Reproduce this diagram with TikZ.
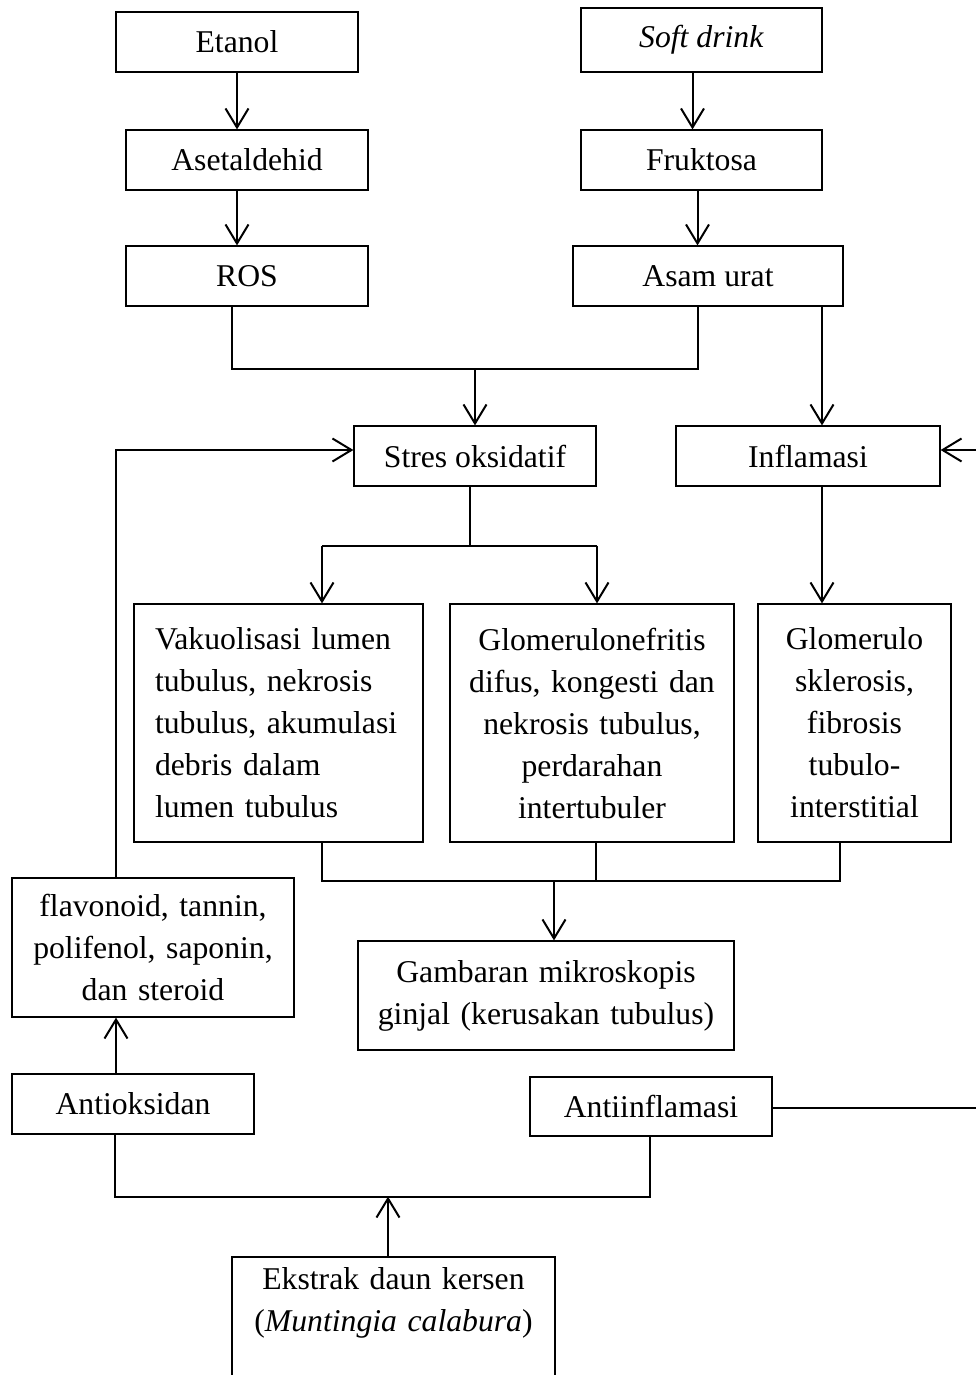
\documentclass[tikz,border=0pt]{standalone}
\usepackage{fontspec}
\setmainfont{Liberation Serif}
\usetikzlibrary{arrows.meta}

\begin{document}
\begin{tikzpicture}[x=1pt,y=-1pt,font=\fontsize{31.7}{42}\selectfont]
	\tikzstyle{box}=[draw,line width=1.2pt,inner sep=0pt,minimum height=60pt,align=center]
	\tikzstyle{bigbox}=[box,minimum height=238pt]
	\tikzstyle{arr}=[line width=2pt,-{Straight Barb[length=19pt,width=23pt]}]
	\tikzstyle{ln}=[line width=2pt]
	\useasboundingbox (0,0) rectangle (976,1375);
	\clip (0,0) rectangle (976,1375);
	\node[box,minimum width=242pt] (etanol) at (237,42) {Etanol};
	\node[box,minimum width=242pt] (asetaldehid) at (247,160) {Asetaldehid};
	\node[box,minimum width=242pt] (ros) at (247,276) {ROS};
	\node[box,minimum width=241pt,minimum height=64pt] (softdrink) at (701.5,40) {\textit{Soft drink}};
	\node[box,minimum width=241pt] (fruktosa) at (701.5,160) {Fruktosa};
	\node[box,minimum width=270pt] (asamurat) at (708,276) {Asam urat};
	\node[box,minimum width=242pt] (stres) at (475,456) {Stres oksidatif};
	\node[box,minimum width=264pt] (inflamasi) at (808,456) {Inflamasi};
	\node[bigbox,text width=247pt,inner xsep=21pt,align=left] (vakuolisasi) at (278.5,723)
		{Vakuolisasi lumen\\tubulus, nekrosis\\tubulus, akumulasi\\debris dalam\\lumen tubulus};
	\node[bigbox,text width=250pt,inner xsep=17pt] (glomerulonefritis) at (592,723)
		{Glomerulonefritis\\difus, kongesti dan\\nekrosis tubulus,\\perdarahan\\intertubuler};
	\node[bigbox,text width=170pt,inner xsep=11.5pt] (sklerosis) at (854.5,723)
		{Glomerulo\\sklerosis,\\fibrosis\\tubulo-\\interstitial};
	\node[box,text width=262pt,inner xsep=10pt,minimum height=139pt] (flavonoid) at (153,947.5)
		{flavonoid, tannin,\\polifenol, saponin,\\dan steroid};
	\node[box,text width=356pt,inner xsep=10pt,minimum height=109pt] (gambaran) at (546,995.5)
		{Gambaran mikroskopis\\ginjal (kerusakan tubulus)};
	\node[box,minimum width=242pt] (antioksidan) at (133,1104) {Antioksidan};
	\node[box,minimum width=242pt,minimum height=59pt] (antiinflamasi) at (651,1106.5) {Antiinflamasi};
	\node[box,text width=303pt,inner xsep=10pt,minimum height=140pt] (ekstrak) at (393.5,1327)
		{Ekstrak daun kersen\\(\textit{Muntingia calabura})\\\strut};

	\draw[arr] (etanol.south) -- (etanol.south |- asetaldehid.north);
	\draw[arr] (asetaldehid.south -| etanol.south) -- (ros.north -| etanol.south);
	\draw[arr] ([xshift=-9pt]softdrink.south) -- ([xshift=-9pt]softdrink.south |- fruktosa.north);
	\draw[arr] ([xshift=-4pt]fruktosa.south) -- ([xshift=-4pt]fruktosa.south |- asamurat.north);

	\draw[ln] ([xshift=-15pt]ros.south) -- ++(0,62) coordinate (j1) -| ([xshift=-10pt]asamurat.south);
	\draw[arr] (j1 -| stres.north) -- (stres.north);
	\draw[arr] ([xshift=114pt]asamurat.south) -- ([xshift=114pt]asamurat.south |- inflamasi.north);

	\draw[ln] ([xshift=-5pt]stres.south) -- ++(0,59) coordinate (j2);
	\draw[arr] (j2 -| vakuolisasi.north) ++(43.5,0) coordinate (j3) -- (j3 |- vakuolisasi.north);
	\draw[arr] (j2 -| glomerulonefritis.north) ++(5,0) coordinate (j4) -- (j4 |- glomerulonefritis.north);
	\draw[ln] (j3) -- (j4);
	\draw[arr] ([xshift=14pt]inflamasi.south) -- ([xshift=14pt]inflamasi.south |- sklerosis.north);

	\draw[ln] ([xshift=43.5pt]vakuolisasi.south) -- ++(0,38) coordinate (j5) -| ([xshift=-14.5pt]sklerosis.south);
	\draw[ln] ([xshift=4pt]glomerulonefritis.south) -- ([xshift=4pt]glomerulonefritis.south |- j5);
	\draw[arr] (j5 -| gambaran.north) ++(8,0) coordinate (j6) -- (j6 |- gambaran.north);

	\draw[arr] ([xshift=-37pt]flavonoid.north) |- ([yshift=6pt]stres.west);
	\draw[arr] ([xshift=-17pt]antioksidan.north) -- ([xshift=-17pt]antioksidan.north |- flavonoid.south);
	\draw[arr] (antiinflamasi.east) ++(0,1.5) -- ++(224,0) |- ([yshift=6pt]inflamasi.east);

	\draw[ln] ([xshift=-18pt]antioksidan.south) -- ++(0,62) coordinate (j7) -| ([xshift=-1pt]antiinflamasi.south);
	\draw[arr] ([xshift=-5.5pt]ekstrak.north) -- ([xshift=-5.5pt]ekstrak.north |- j7);
\end{tikzpicture}
\end{document}
